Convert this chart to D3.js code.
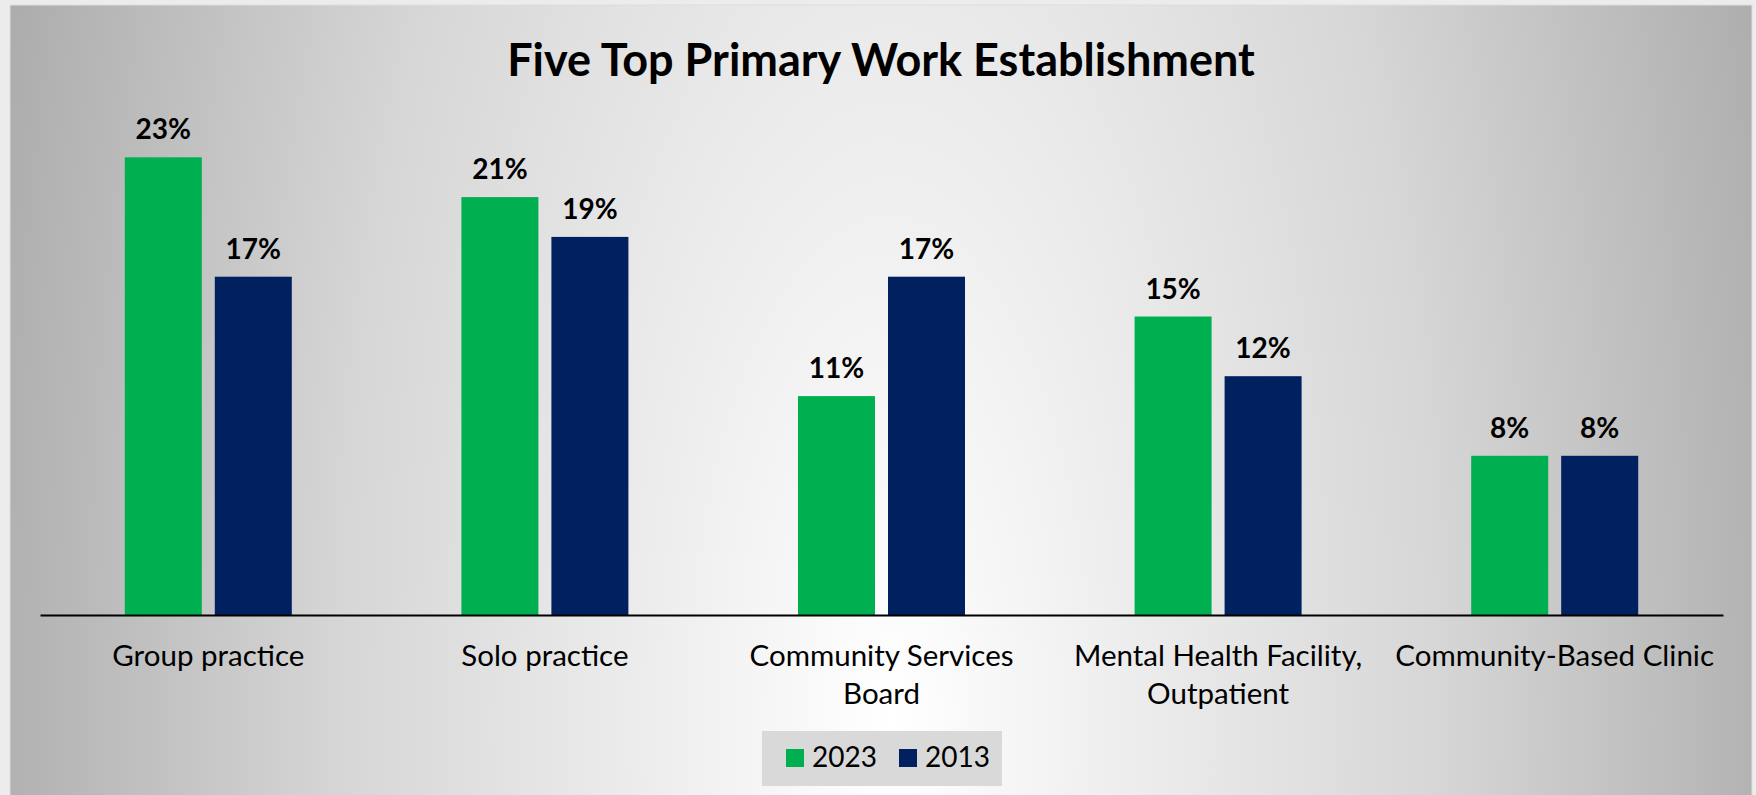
<!DOCTYPE html>
<html>
<head>
<meta charset="utf-8">
<script src="https://cdn.jsdelivr.net/npm/d3@7/dist/d3.min.js"></script>
<style>
  html, body { margin: 0; padding: 0; background: #f0f0f0; }
  svg { display: block; }
  text { font-family: Lato, "Open Sans", sans-serif; fill: #000; }
</style>
</head>
<body>
<svg id="chart" width="1756" height="795"></svg>
<script>
// Primary work establishment shares, 2023 vs 2013
const categories = [
  ["Group practice"],
  ["Solo practice"],
  ["Community Services", "Board"],
  ["Mental Health Facility,", "Outpatient"],
  ["Community-Based Clinic"]
];
const seriesNames = ["2023", "2013"];
const values2023 = [23, 21, 11, 15, 8];
const values2013 = [17, 19, 17, 12, 8];
const seriesColors = ["#00b050", "#002060"];
const yTicks = [0, 5, 10, 15, 20, 25];

const W = 1756, H = 795;
const svg = d3.select("#chart");

// Chart area fill: soft radial grey gradient, lightest around the centre column
const defs = svg.append("defs");
const grad = defs.append("radialGradient")
  .attr("id", "bg")
  .attr("gradientUnits", "userSpaceOnUse")
  .attr("cx", 0).attr("cy", 0).attr("r", 1)
  .attr("gradientTransform", "translate(890,720) scale(1000,2500)");
grad.append("stop").attr("offset", 0).attr("stop-color", "#ffffff");
grad.append("stop").attr("offset", 0.55).attr("stop-color", "#d6d6d6");
grad.append("stop").attr("offset", 1).attr("stop-color", "#a4a4a4");

svg.append("rect").attr("x", 0).attr("y", 0).attr("width", W).attr("height", H).attr("fill", "#ececec");
svg.append("rect")
  .attr("x", 10).attr("y", 5).attr("width", 1742).attr("height", 795)
  .attr("fill", "url(#bg)")
  .attr("stroke", "#dedede").attr("stroke-width", 1);

// Scales
const plotLeft = 40, plotRight = 1723, baseY = 615;
const keys = categories.map(c => c.join(" "));
const x0 = d3.scaleBand().domain(keys).range([plotLeft, plotRight]).padding(0);
const groupW = 167;
const x1 = d3.scaleBand().domain(seriesNames).range([0, groupW]).paddingInner(0.1444).paddingOuter(0);
const y = d3.scaleLinear().domain([0, d3.max(yTicks)]).range([baseY, baseY - 25 * 19.9]);

const rows = keys.map((k, i) => ({
  key: k,
  lines: categories[i],
  vals: [values2023[i], values2013[i]]
}));

// Title
svg.append("text")
  .attr("x", 881).attr("y", 76)
  .attr("text-anchor", "middle")
  .style("font-weight", 700)
  .style("font-size", "45px")
  .text("Five Top Primary Work Establishment");

// Bars and value labels
const groups = svg.selectAll("g.cat").data(rows).join("g")
  .attr("class", "cat")
  .attr("transform", d => `translate(${x0(d.key) + (x0.bandwidth() - groupW) / 2},0)`);

groups.selectAll("rect").data(d => d.vals.map((v, j) => ({ s: seriesNames[j], v, c: seriesColors[j] })))
  .join("rect")
  .attr("x", d => x1(d.s))
  .attr("y", d => y(d.v))
  .attr("width", x1.bandwidth())
  .attr("height", d => y(0) - y(d.v))
  .attr("fill", d => d.c);

groups.selectAll("text.val").data(d => d.vals.map((v, j) => ({ s: seriesNames[j], v })))
  .join("text")
  .attr("class", "val")
  .attr("x", d => x1(d.s) + x1.bandwidth() / 2)
  .attr("y", d => y(d.v) - 18)
  .attr("text-anchor", "middle")
  .style("font-weight", 700)
  .style("font-size", "28px")
  .text(d => d.v + "%");

// Category axis
const xAxis = svg.append("g").attr("transform", `translate(0,${baseY})`)
  .call(d3.axisBottom(x0).tickSize(0).tickFormat(""));
xAxis.select(".domain").attr("stroke", "#000").attr("stroke-width", 2.2);

const labels = svg.selectAll("text.cat").data(rows).join("text")
  .attr("class", "cat")
  .attr("text-anchor", "middle")
  .style("font-size", "29.5px");
labels.selectAll("tspan").data(d => d.lines.map(l => ({ l, cx: x0(d.key) + x0.bandwidth() / 2 })))
  .join("tspan")
  .attr("x", d => d.cx)
  .attr("y", (d, i) => 666 + i * 38)
  .text(d => d.l);

// Legend
const legend = svg.append("g");
legend.append("rect").attr("x", 762).attr("y", 731).attr("width", 240).attr("height", 55).attr("fill", "#d9d9d9");
const legX = [786, 899];
seriesNames.forEach((s, i) => {
  legend.append("rect").attr("x", legX[i]).attr("y", 749).attr("width", 18).attr("height", 18).attr("fill", seriesColors[i]);
  legend.append("text").attr("x", legX[i] + 26).attr("y", 767).style("font-size", "28px").text(s);
});
</script>
</body>
</html>
